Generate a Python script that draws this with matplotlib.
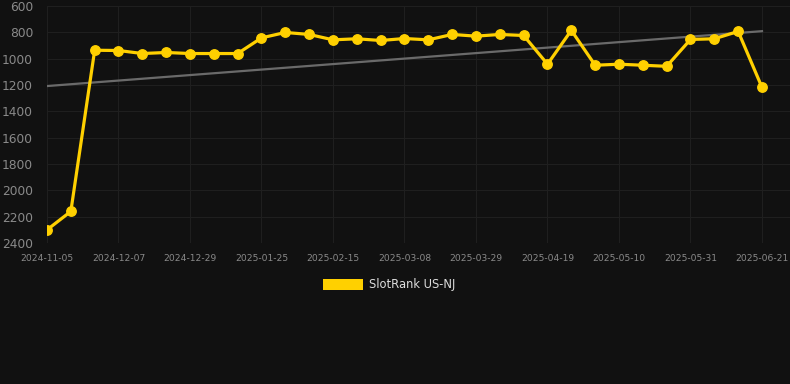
import matplotlib
matplotlib.use("Agg")
import matplotlib.pyplot as plt
import numpy as np
from matplotlib.patches import Rectangle

dates = [
    "2024-11-05", "2024-11-16", "2024-11-26", "2024-12-07", "2024-12-14", "2024-12-21",
    "2024-12-29", "2025-01-07", "2025-01-16", "2025-01-25", "2025-02-01", "2025-02-08",
    "2025-02-15", "2025-02-22", "2025-03-01", "2025-03-08", "2025-03-15", "2025-03-22",
    "2025-03-29", "2025-04-05", "2025-04-12", "2025-04-19", "2025-04-26", "2025-05-03",
    "2025-05-10", "2025-05-17", "2025-05-24", "2025-05-31", "2025-06-07", "2025-06-14",
    "2025-06-21",
]
ranks = [
    2300, 2160, 936, 938, 961, 953, 961, 961, 961, 842, 801, 816, 857, 849, 862,
    847, 857, 816, 829, 816, 824, 1042, 785, 1050, 1042, 1050, 1058, 854, 849, 793, 1218,
]
trend_ends = [1208, 791]
series_label = "SlotRank US-NJ"
y_ticks = [600, 800, 1000, 1200, 1400, 1600, 1800, 2000, 2200, 2400]

W, H = 790, 384
bg = "#111111"
fig = plt.figure(figsize=(W / 100, H / 100), dpi=100, facecolor=bg)
ax = fig.add_axes([47 / W, 1 - 243 / H, (W - 47) / W, (243 - 6) / H])
ax.set_facecolor(bg)

x = np.arange(len(ranks))
ax.plot([x[0], x[-1]], trend_ends, color="#6a6a6a", lw=1.6, zorder=2)
ax.plot(x, ranks, color="#FFD000", lw=2.3, marker="o", ms=6.8,
        markerfacecolor="#FFD000", markeredgecolor="#FFD000", zorder=3)

ax.set_ylim(2400, 600)
ax.set_xlim(0, 30 + (790 - 762) / 23.83)
ax.set_yticks(y_ticks)
ax.set_yticklabels([str(v) for v in y_ticks])
tick_idx = list(range(0, len(dates), 3))
ax.set_xticks(tick_idx)
ax.set_xticklabels([dates[i] for i in tick_idx])

ax.grid(True, color="#1f1f1f", lw=0.8, zorder=0)
for s in ax.spines.values():
    s.set_visible(False)
ax.tick_params(axis="both", length=0, colors="#8a8a8a")
ax.tick_params(axis="y", labelsize=8.8, pad=10)
ax.tick_params(axis="x", labelsize=6.6, pad=8)

# legend
fig.patches.append(Rectangle((323 / W, 1 - 290 / H), 40 / W, 11 / H,
                             transform=fig.transFigure, facecolor="#FFD000",
                             edgecolor="none"))
fig.text(369 / W, 1 - 284.5 / H, series_label, color="#dddddd", fontsize=8.3,
         va="center", ha="left")

fig.savefig("out.png", dpi=100, facecolor=bg)
